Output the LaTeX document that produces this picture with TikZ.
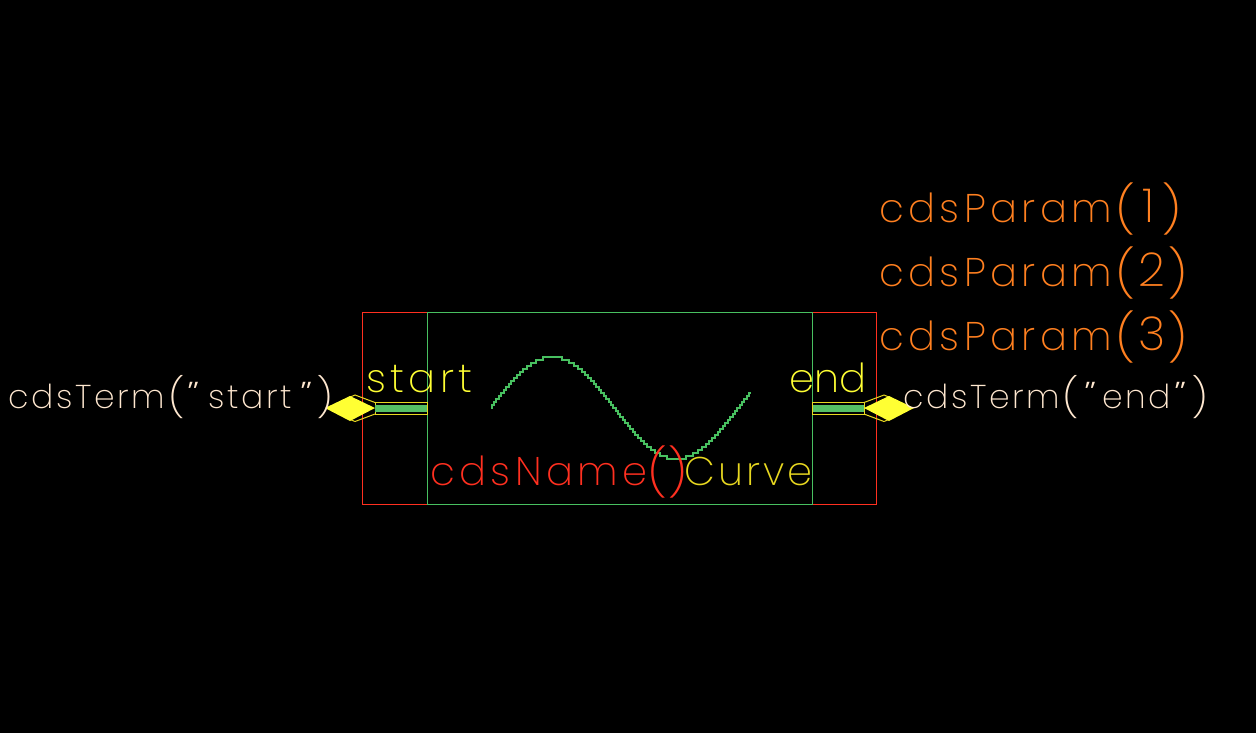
\documentclass[tikz,border=0pt]{standalone}
\usepackage{fontspec}
\setmainfont{Poppins}[UprightFont=* ExtraLight]
\newfontfamily\cadbig{Poppins}[UprightFont=* ExtraLight,LetterSpace=11]
\newfontfamily\cadmid{Poppins}[UprightFont=* ExtraLight,LetterSpace=8]
\newfontfamily\cadtight{Poppins}[UprightFont=* ExtraLight,LetterSpace=0]
\definecolor{cadorange}{HTML}{FF8020}
\definecolor{cadyellow}{HTML}{FFFF33}
\definecolor{cadgold}{HTML}{E8D820}
\definecolor{cadred}{HTML}{FF3020}
\definecolor{cadgreen}{HTML}{48C060}
\definecolor{cadcream}{HTML}{FFE8D0}
\definecolor{cadpin}{HTML}{55C065}
\tikzset{
 x=1pt,y=-1pt,
 cadtext/.style={anchor=base west,inner sep=0pt,font=\cadbig\fontsize{40}{40}\selectfont},
 midtext/.style={anchor=base west,inner sep=0pt,font=\cadmid\fontsize{40}{40}\selectfont},
 tighttext/.style={anchor=base west,inner sep=0pt,font=\cadtight\fontsize{40}{40}\selectfont},
 digittext/.style={anchor=base west,inner sep=0pt,font=\cadtight\fontsize{40}{40}\selectfont,transform shape,scale=1.17,text=cadorange},
 bigparen/.style={anchor=center,inner sep=0pt,font=\cadtight\fontsize{40}{40}\selectfont,transform shape,xscale=1.35,yscale=1.17},
 termparen/.style={anchor=center,inner sep=0pt,font=\cadtight\fontsize{33}{33}\selectfont,transform shape,xscale=1.35,yscale=1.17,text=cadcream},
 termtext/.style={anchor=base west,inner sep=0pt,font=\cadmid\fontsize{33}{33}\selectfont,text=cadcream},
 termquote/.style={anchor=base west,inner sep=0pt,font=\cadtight\fontsize{33}{33}\selectfont,text=cadcream,transform shape,xslant=0.3,xscale=1.6},
 pinline/.style={draw=cadgold,line width=1pt},
 pinfill/.style={fill=cadpin,draw=none},
 pindiamond/.style={fill=cadyellow,draw=none},
 boxline/.style={line width=1pt},
}
\begin{document}
\begin{tikzpicture}
\fill[black] (0,0) rectangle (1256,733);
\useasboundingbox (0,0) rectangle (1256,733);
\draw[cadred,boxline] (362.5,312.5) rectangle (876.5,504);
\draw[cadgreen,boxline] (427.5,312.5) rectangle (812.5,504);
\draw[cadgreen,line width=1.2pt] plot[const plot,samples=261,domain=491:751] (\x,{3*round((408-51*cos((\x-552)/124*180))/3)});
\draw[pinline] (375,402.5) rectangle (427,414);
\draw[pinline] (812.5,402.5) rectangle (864,414);
\fill[pinfill] (375,405) rectangle (427,412);
\fill[pinfill] (813,405) rectangle (863.5,412);
\draw[pinline] (375,402.5) -- (355,395) -- (349,397.5) (375,414) -- (355,421.5) -- (349,419);
\draw[pinline] (864,402.5) -- (884,395) -- (890,397.5) (864,414) -- (884,421.5) -- (890,419);
\fill[pindiamond] (325,408) -- (350,396) -- (375,408) -- (350,421) -- cycle;
\fill[pindiamond] (864,408) -- (889,396) -- (914,408) -- (889,421) -- cycle;
\node[cadtext,text=cadorange] (p1) at (879,222.7) {cdsParam};
\node[bigparen,text=cadorange] (p1l) at (1126,208.5) {(};
\node[digittext] (p1n) at (1142,222.7) {1};
\node[bigparen,text=cadorange] (p1r) at (1172,208.5) {)};
\node[cadtext,text=cadorange] (p2) at (879,286.7) {cdsParam};
\node[bigparen,text=cadorange] (p2l) at (1126,272.5) {(};
\node[digittext] (p2n) at (1138,286.7) {2};
\node[bigparen,text=cadorange] (p2r) at (1178,272.5) {)};
\node[cadtext,text=cadorange] (p3) at (879,350.7) {cdsParam};
\node[bigparen,text=cadorange] (p3l) at (1126,336.5) {(};
\node[digittext] (p3n) at (1138,350.7) {3};
\node[bigparen,text=cadorange] (p3r) at (1178,336.5) {)};
\node[cadtext,text=cadyellow] (s) at (366,392.7) {start};
\node[tighttext,text=cadyellow] (e) at (789,392.7) {end};
\node[cadtext,text=cadred] (n) at (430,485.7) {cdsName};
\node[bigparen,text=cadred] (nl) at (657.5,472) {(};
\node[bigparen,text=cadred] (nr) at (678,472) {)};
\node[midtext,text=cadgold] (c) at (684,485.7) {Curve};
\node[termtext] (ts) at (8,408.3) {cdsTerm};
\node[termparen] (tsl) at (177,397.5) {(};
\node[termquote] (tsa) at (180,408.3) {"};
\node[termtext] (tsw) at (208,408.3) {start};
\node[termquote] (tsb) at (293,408.3) {"};
\node[termparen] (tsr) at (325,397.5) {)};
\node[termtext] (te) at (903,408.3) {cdsTerm};
\node[termparen] (tel) at (1071,397.5) {(};
\node[termquote] (tea) at (1077,408.3) {"};
\node[termtext] (tew) at (1102,408.3) {end};
\node[termquote] (teb) at (1167,408.3) {"};
\node[termparen] (ter) at (1200,397.5) {)};
\end{tikzpicture}
\end{document}
